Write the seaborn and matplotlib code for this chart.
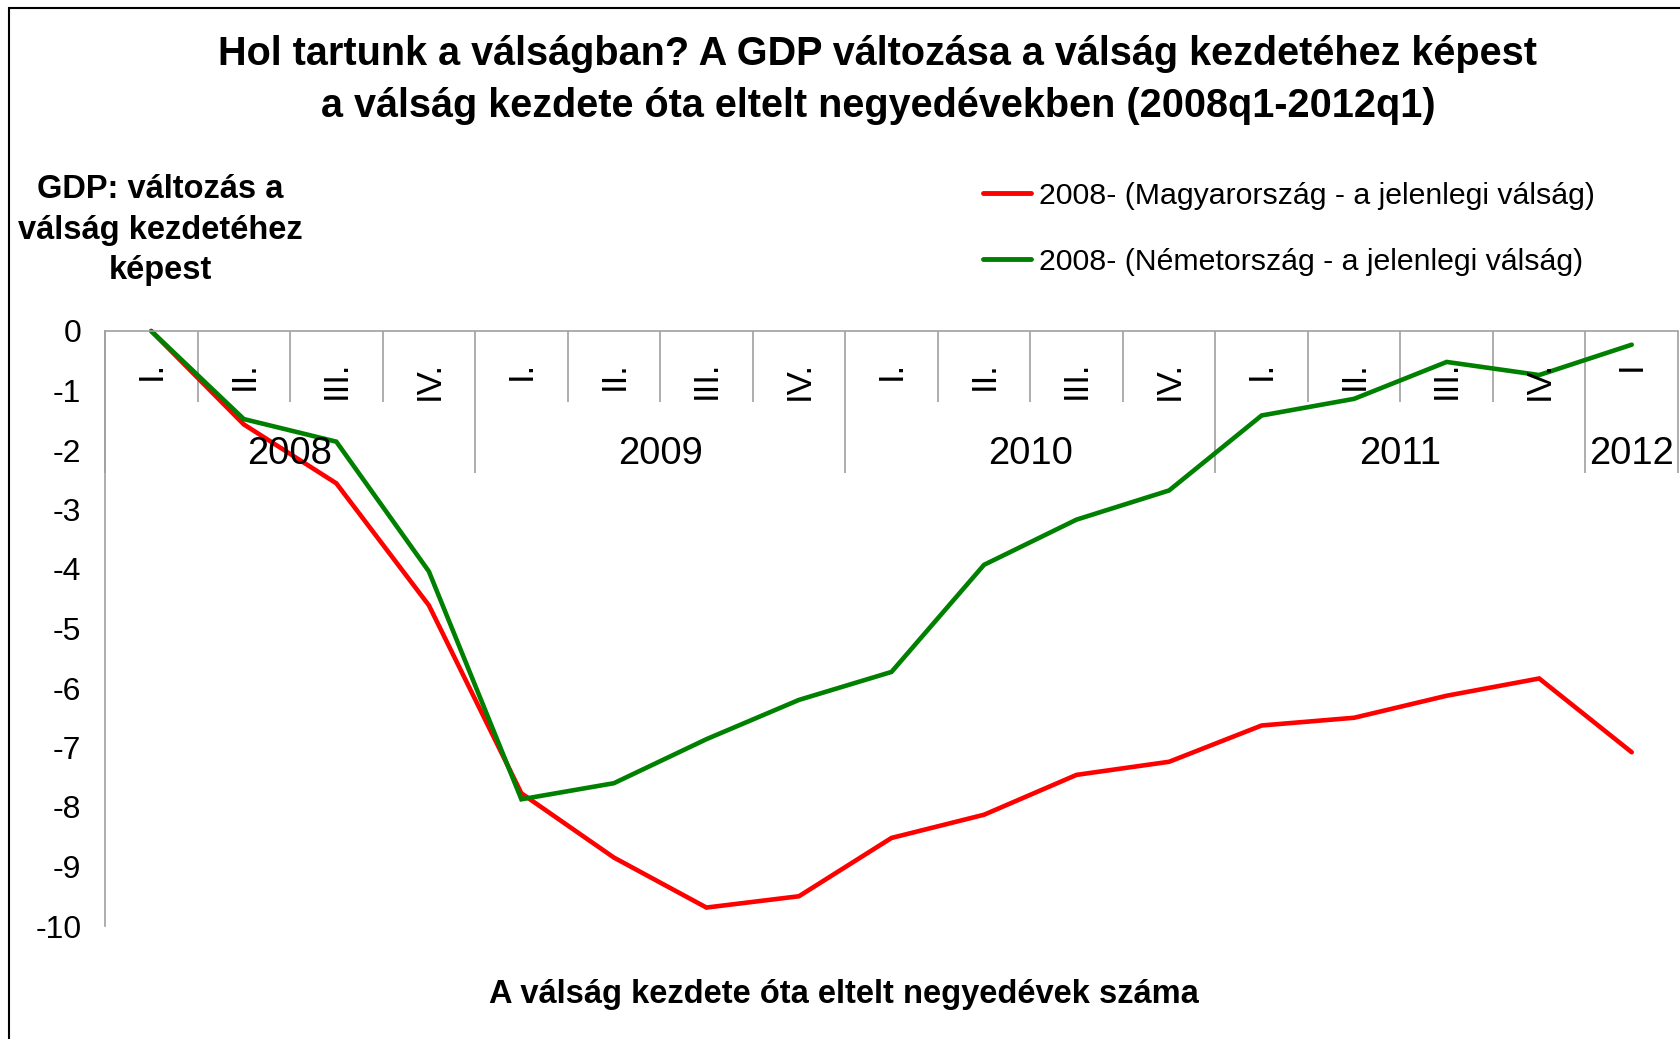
import matplotlib
matplotlib.use("Agg")
import matplotlib.pyplot as plt
import matplotlib.transforms as mtransforms
from matplotlib.patches import Rectangle
from matplotlib.lines import Line2D
import seaborn as sns
import pandas as pd
import numpy as np

# ---- data ----
quarter_labels = ["I.", "II.", "III.", "IV.",
                  "I.", "II.", "III.", "IV.",
                  "I.", "II.", "III.", "IV.",
                  "I.", "II.", "III.", "IV.",
                  "I"]
years = ["2008", "2009", "2010", "2011", "2012"]
quarters_per_year = [4, 4, 4, 4, 1]

hungary = [0.0, -1.57, -2.56, -4.61, -7.77, -8.85, -9.69, -9.50,
           -8.52, -8.13, -7.46, -7.24, -6.63, -6.50, -6.13, -5.84, -7.08]
germany = [0.0, -1.48, -1.86, -4.04, -7.87, -7.60, -6.86, -6.20,
           -5.73, -3.93, -3.17, -2.68, -1.42, -1.14, -0.52, -0.74, -0.23]

series_names = ["2008- (Magyarország - a jelenlegi válság)",
                "2008- (Németország - a jelenlegi válság)"]
colors = ["#FF0000", "#008000"]

title = ("Hol tartunk a válságban? A GDP változása a válság kezdetéhez képest\n"
         "a válság kezdete óta eltelt negyedévekben (2008q1-2012q1)")
ylabel = "GDP: változás a\nválság kezdetéhez\nképest"
xlabel = "A válság kezdete óta eltelt negyedévek száma"
yticks = list(range(0, -11, -1))

# ---- build long-form table ----
n = len(quarter_labels)
df = pd.DataFrame({
    "idx": list(range(n)) * 2,
    "value": hungary + germany,
    "series": [series_names[0]] * n + [series_names[1]] * n,
})

sns.set_theme(style="white")
plt.rcParams["font.family"] = ["Liberation Sans", "DejaVu Sans"]
plt.rcParams["text.color"] = "black"
plt.rcParams["axes.labelcolor"] = "black"
plt.rcParams["xtick.color"] = "black"
plt.rcParams["ytick.color"] = "black"

W, H = 1680, 1039
fig = plt.figure(figsize=(W / 100, H / 100), dpi=100)
fig.patch.set_facecolor("white")

ax_left, ax_right = 105 / W, 1678 / W
ax_top, ax_bottom = 1 - 331 / H, 1 - 926 / H
ax = fig.add_axes([ax_left, ax_bottom, ax_right - ax_left, ax_top - ax_bottom])
ax.set_facecolor("white")

sns.lineplot(data=df, x="idx", y="value", hue="series",
             palette=dict(zip(series_names, colors)),
             linewidth=3.3, ax=ax, legend=False, sort=False)
for line in ax.lines:
    line.set_clip_on(False)
    line.set_solid_joinstyle("miter")

ax.set_xlim(-0.5, n - 0.5)
ax.set_ylim(-10, 0)
ax.set_xlabel("")
ax.set_ylabel("")

axis_color = "#A0A0A0"
for s in ["right", "bottom"]:
    ax.spines[s].set_visible(False)
for s in ["top", "left"]:
    ax.spines[s].set_color(axis_color)
    ax.spines[s].set_linewidth(1.2)

# y axis
ax.set_yticks(yticks)
ax.set_yticklabels([str(v) for v in yticks])
ax.tick_params(axis="y", direction="out", length=7, width=1.2, color=axis_color,
               labelsize=23, pad=10, labelcolor="black")

# x axis on top, separators as ticks pointing down
ax.xaxis.set_ticks_position("top")
bounds = np.arange(-0.5, n, 1.0)
year_bounds = [-0.5]
for q in quarters_per_year:
    year_bounds.append(year_bounds[-1] + q)
minor = [b for b in bounds if b not in year_bounds]
ax.set_xticks(year_bounds)
ax.set_xticks(minor, minor=True)
ax.set_xticklabels([])
ax.tick_params(axis="x", which="major", direction="in", length=102, width=1.2,
               color=axis_color, top=True, bottom=False)
ax.tick_params(axis="x", which="minor", direction="in", length=51, width=1.2,
               color=axis_color, top=True, bottom=False)

trans = mtransforms.blended_transform_factory(ax.transData, ax.transAxes)
ax_h_px = 926 - 331
for i, lab in enumerate(quarter_labels):
    ax.text(i, 1 - 30 / ax_h_px, lab, rotation=90, ha="center", va="top",
            fontsize=25, transform=trans, color="black")
start = 0
for yr, q in zip(years, quarters_per_year):
    center = start + (q - 1) / 2
    ax.text(center, 1 - 123 / ax_h_px, yr, ha="center", va="center",
            fontsize=27.5, transform=trans, color="black")
    start += q

# title, axis labels
fig.text(878 / W, 1 - 80 / H, title, ha="center", va="center", fontsize=28.5,
         fontweight="bold", linespacing=1.47, color="black")
fig.text(160 / W, 1 - 230 / H, ylabel, ha="center", va="center", fontsize=23.5,
         fontweight="bold", linespacing=1.4, color="black")
fig.text(844 / W, 1 - 995 / H, xlabel, ha="center", va="center", fontsize=23.5,
         fontweight="bold", color="black")

# legend
handles = [Line2D([0], [0], color=c, lw=3.5) for c in colors]
leg = fig.legend(handles, series_names, loc="upper left",
                 bbox_to_anchor=(983 / W, 1 - 182 / H), frameon=False,
                 fontsize=21.8, handlelength=1.6, handletextpad=0.25,
                 labelspacing=1.25, borderpad=0, borderaxespad=0)
for t in leg.get_texts():
    t.set_color("black")

# figure border (left & top)
fig.patches.append(Rectangle((9 / W, -0.5), 2.0, 1.5 - 8 / H,
                             transform=fig.transFigure, fill=False,
                             edgecolor="black", linewidth=1.5))

fig.savefig("out.png", dpi=100, facecolor="white")
